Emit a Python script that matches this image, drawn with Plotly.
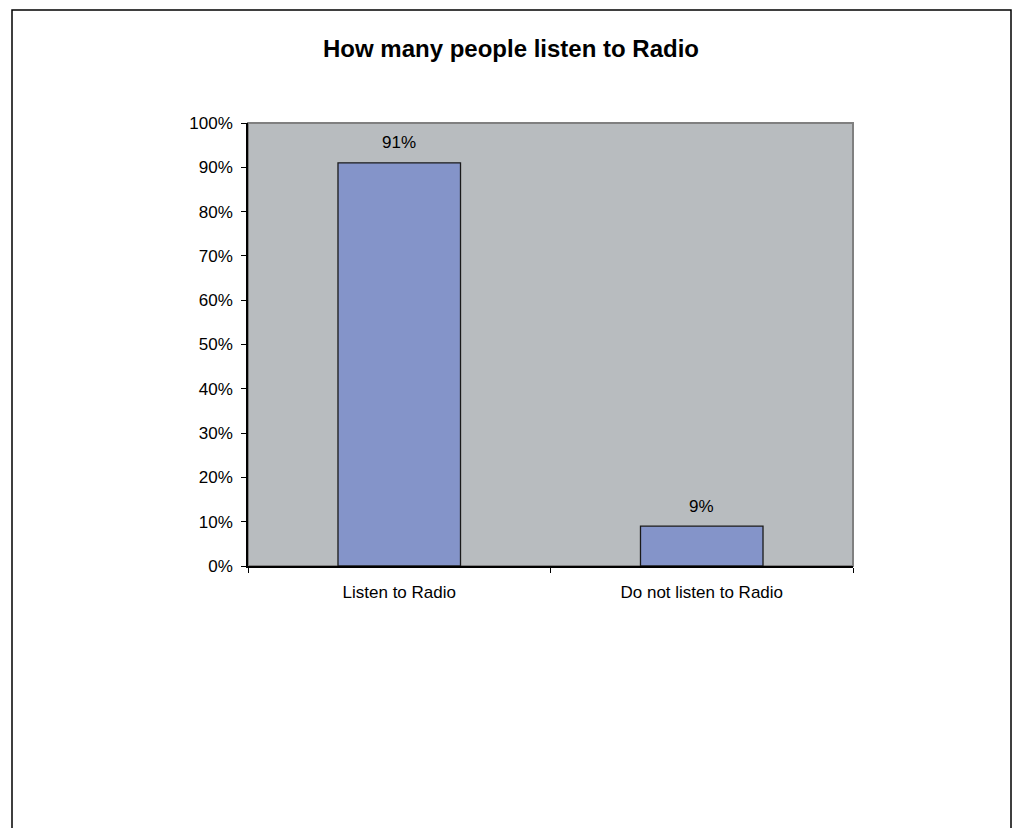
import plotly.graph_objects as go

categories = ["Listen to Radio", "Do not listen to Radio"]
shares = [91, 9]
y_ticks = [0, 10, 20, 30, 40, 50, 60, 70, 80, 90, 100]
y_tick_labels = [f"{v}%" for v in y_ticks]
title_text = "How many people listen to Radio"

FONT = "Liberation Sans, Arial, sans-serif"

fig = go.Figure(
    go.Bar(
        x=categories,
        y=shares,
        marker=dict(color="#8494C9", line=dict(color="#1a1a1a", width=1.3)),
        width=0.405,
        hoverinfo="skip",
    )
)

# value labels above each bar
for cat, val in zip(categories, shares):
    fig.add_annotation(
        x=cat, y=val, text=f"{val}%", showarrow=False,
        yanchor="middle", yshift=20,
        font=dict(family=FONT, size=17, color="#000000"),
    )

# Plot-area frame (grey top/right edges) and outer chart border
fig.add_shape(type="rect", xref="paper", yref="paper", x0=0, x1=1, y0=0, y1=1,
              line=dict(color="#808080", width=2), layer="below")
fig.add_shape(type="rect", xref="paper", yref="paper",
              x0=(12 - 248) / 605, x1=(1011 - 248) / 605,
              y0=(566 - 850) / 443, y1=(566 - 10) / 443,
              line=dict(color="#000000", width=1.5), layer="below")

fig.update_layout(
    width=1013, height=828,
    margin=dict(l=248, r=160, t=123, b=262),
    paper_bgcolor="#FFFFFF",
    plot_bgcolor="#B8BCBF",
    showlegend=False,
    title=dict(text=f"<b>{title_text}</b>", x=511 / 1013, xanchor="center",
               y=1 - 49 / 828, yanchor="middle",
               font=dict(family=FONT, size=24, color="#000000")),
    font=dict(family=FONT, size=17, color="#000000"),
)

fig.update_yaxes(
    range=[0, 100], tickvals=y_ticks, ticktext=y_tick_labels,
    showgrid=False, zeroline=False,
    showline=True, linecolor="#000000", linewidth=1.5,
    ticks="outside", ticklen=5, tickcolor="#000000", tickwidth=1,
    tickfont=dict(family=FONT, size=17, color="#000000"),
    ticklabelstandoff=5,
)
fig.update_xaxes(
    showgrid=False, zeroline=False,
    showline=True, linecolor="#000000", linewidth=1.5,
    ticks="outside", ticklen=5, tickcolor="#000000", tickwidth=1,
    tickson="boundaries",
    tickfont=dict(family=FONT, size=17, color="#000000"),
    ticklabelstandoff=10,
)

fig.write_html("out.html")
